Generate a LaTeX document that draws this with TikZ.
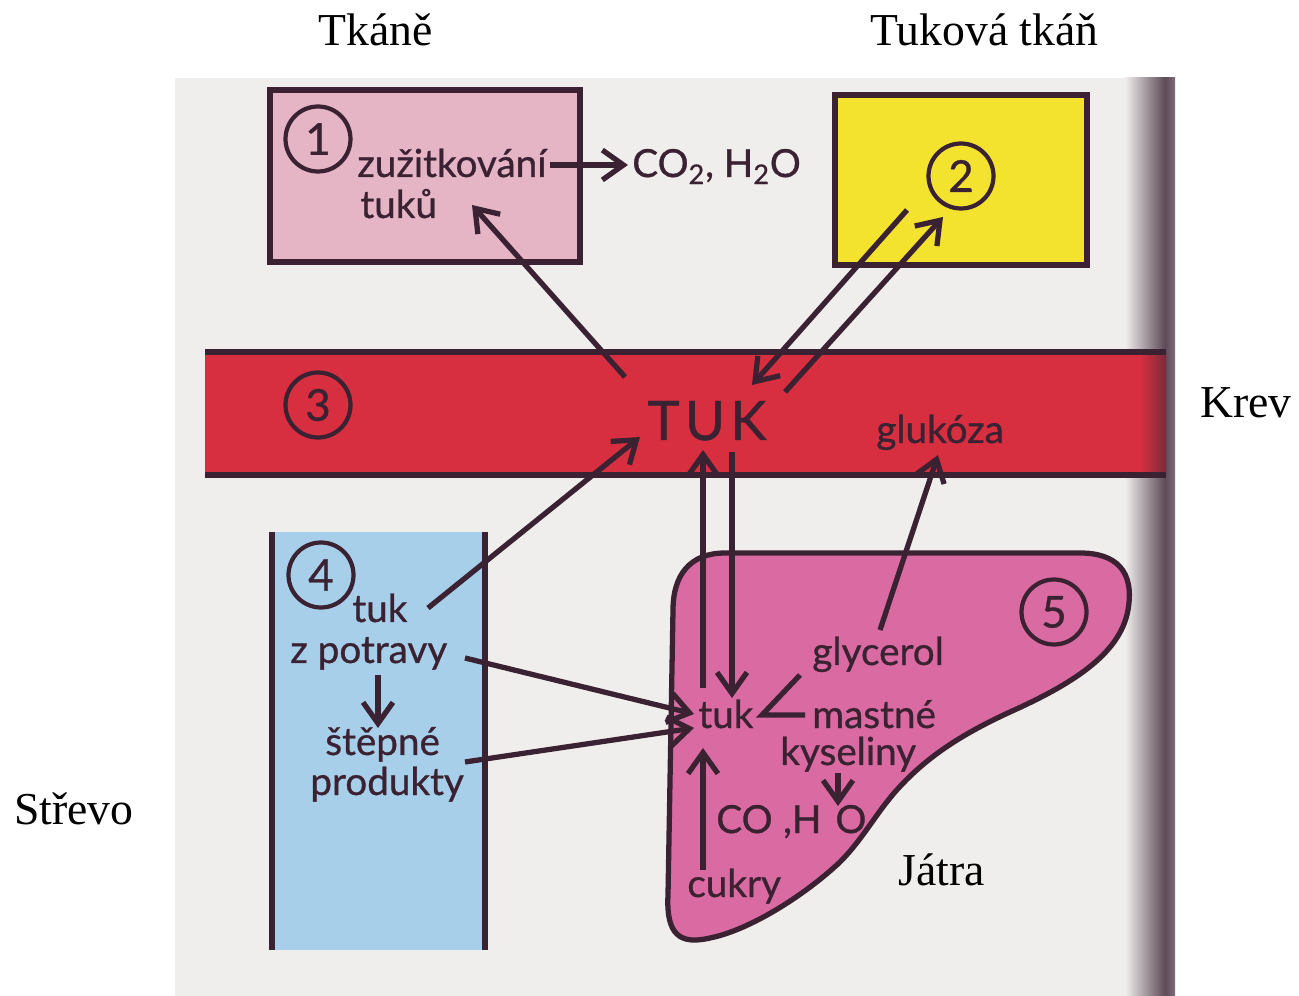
\documentclass[tikz,border=0pt]{standalone}
\usepackage{fontspec}
\setmainfont{Liberation Serif}
\newfontfamily\gillf{Lato}[FakeBold=0.8]
\usetikzlibrary{arrows.meta}
\definecolor{ink}{HTML}{3A2232}
\definecolor{paper}{HTML}{F0EEEC}
\definecolor{edgedark}{HTML}{5E4A58}
\definecolor{pinkbox}{HTML}{E6B5C5}
\definecolor{yellowbox}{HTML}{F3E22E}
\definecolor{blood}{HTML}{D72F3F}
\definecolor{blooddark}{HTML}{7A2A38}
\definecolor{gut}{HTML}{A8CFEA}
\definecolor{liver}{HTML}{D96BA2}
\tikzset{
 txt/.style={font=\gillf\fontsize{22}{26}\selectfont, text=ink, inner sep=0pt, anchor=base west},
 lbl/.style={font=\fontsize{26}{30}\selectfont, text=black, inner sep=0pt, anchor=base west},
 num/.style={circle, draw=ink, line width=2.4pt, minimum size=1.3cm, inner sep=0pt, font=\gillf\fontsize{25}{28}\selectfont, text=ink},
 arr/.style={draw=ink, line width=3pt, -{Straight Barb[length=12pt,width=17pt]}},
 seg/.style={draw=ink, line width=3pt, line join=miter},
 frame/.style={draw=ink, line width=3pt},
}
\begin{document}
\begin{tikzpicture}[x=0.02cm,y=-0.02cm]
\useasboundingbox (0,0) rectangle (1299,996);
% page
\fill[paper] (175,78) rectangle (1175,996);
\shade[left color=paper, right color=edgedark] (1125,78) rectangle (1165,996);
\shade[left color=edgedark, right color=edgedark!80] (1165,78) rectangle (1175,996);
% box 1
\node[frame, fill=pinkbox, minimum width=6.2cm, minimum height=3.44cm] (box1) at (425,176) {};
% box 2
\node[frame, fill=yellowbox, minimum width=5.04cm, minimum height=3.4cm] (box2) at (961,180) {};
% blood band
\fill[blood] (205,352) rectangle (1140,475);
\shade[left color=blood, right color=blooddark] (1140,352) rectangle (1166,475);
\coordinate (bandTL) at (205,352);
\coordinate (bandTR) at (1166,352);
\coordinate (bandBL) at (205,475);
\coordinate (bandBR) at (1166,475);
\draw[frame] (bandTL) -- (bandTR);
\draw[frame] (bandBL) -- (bandBR);
% gut
\fill[gut] (272,532) rectangle (485,950);
\coordinate (gutTL) at (272,532);
\coordinate (gutBL) at (272,950);
\coordinate (gutTR) at (485,532);
\coordinate (gutBR) at (485,950);
\draw[frame] (gutTL) -- (gutBL);
\draw[frame] (gutTR) -- (gutBR);
% liver
\filldraw[fill=liver, draw=ink, line width=3pt]
 (673,610) -- (668,895)
 .. controls (666,935) and (680,945) .. (710,938)
 .. controls (750,930) and (805,895) .. (840,862)
 .. controls (862,840) and (875,815) .. (895,792)
 .. controls (925,758) and (960,735) .. (1010,712)
 .. controls (1070,685) and (1120,655) .. (1128,610)
 .. controls (1135,570) and (1115,553) .. (1080,553)
 -- (725,553)
 .. controls (690,553) and (673,575) .. (673,610) -- cycle;
% circled numbers
\node[num] (n1) at (318,139) {1};
\node[num] (n2) at (961,176) {2};
\node[num] (n3) at (318,405) {3};
\node[num] (n4) at (321,575) {4};
\node[num] (n5) at (1054,612) {5};
% texts
\node[txt] (zu) at (357,177) {zužitkování};
\node[txt] (tuku) at (360,218) {tuků};
\node[txt] (co2) at (632,177) {CO\textsubscript{2}, H\textsubscript{2}O};
\node[txt, font=\gillf\fontsize{31}{34}\selectfont, anchor=base] (TUK) at (707,440) {T\kern3pt U\kern3pt K};
\node[txt] (glu) at (876,443) {glukóza};
\node[txt] (tuk4) at (352,622) {tuk};
\node[txt] (zpot) at (290,663) {z potravy};
\node[txt] (stepne) at (325,755) {štěpné};
\node[txt] (prod) at (310,795) {produkty};
\node[txt] (gly) at (812,665) {glycerol};
\node[txt] (tuk5) at (698,728) {tuk};
\node[txt] (mast) at (812,728) {mastné};
\node[txt] (kys) at (780,765) {kyseliny};
\node[txt] (co) at (716,833) {CO\hspace{6pt},H\hspace{8pt}O};
\node[txt] (cuk) at (687,897) {cukry};
% outside labels
\node[lbl] (tkane) at (318,46) {Tkáně};
\node[lbl] (tukt) at (870,46) {Tuková tkáň};
\node[lbl] (krev) at (1200,418) {Krev};
\node[lbl] (strevo) at (14,825) {Střevo};
\node[lbl] (jatra) at (898,885) {Játra};
% arrow end points
\coordinate (a1s) at (625,377); \coordinate (a1e) at (472,205);
\coordinate (a2s) at (550,165); \coordinate (a2e) at (628,165);
\coordinate (a3s) at (907,210); \coordinate (a3e) at (752,385);
\coordinate (a4s) at (785,392); \coordinate (a4e) at (943,217);
\coordinate (a5s) at (428,608); \coordinate (a5e) at (640,437);
\coordinate (a6s) at (465,658); \coordinate (a6e) at (694,714);
\coordinate (a7s) at (465,762); \coordinate (a7e) at (694,728);
\coordinate (a8s) at (378,675); \coordinate (a8e) at (378,728);
\coordinate (a9s) at (703,688); \coordinate (a9e) at (703,450);
\coordinate (a10s) at (732,452); \coordinate (a10e) at (732,698);
\coordinate (a11s) at (880,630); \coordinate (a11e) at (938,455);
\coordinate (v1) at (800,675); \coordinate (v2) at (762,715); \coordinate (v3) at (805,715);
\coordinate (a13s) at (838,773); \coordinate (a13e) at (838,806);
\coordinate (a14s) at (703,870); \coordinate (a14e) at (703,748);
% arrows
\draw[arr] (a1s) -- (a1e);
\draw[arr] (a2s) -- (a2e);
\draw[arr] (a3s) -- (a3e);
\draw[arr] (a4s) -- (a4e);
\draw[arr] (a5s) -- (a5e);
\draw[arr] (a6s) -- (a6e);
\draw[arr] (a7s) -- (a7e);
\draw[arr] (a8s) -- (a8e);
\draw[arr] (a9s) -- (a9e);
\draw[arr] (a10s) -- (a10e);
\draw[arr] (a11s) -- (a11e);
\draw[seg] (v1) -- (v2) -- (v3);
\draw[arr] (a13s) -- (a13e);
\draw[arr] (a14s) -- (a14e);
\end{tikzpicture}
\end{document}
